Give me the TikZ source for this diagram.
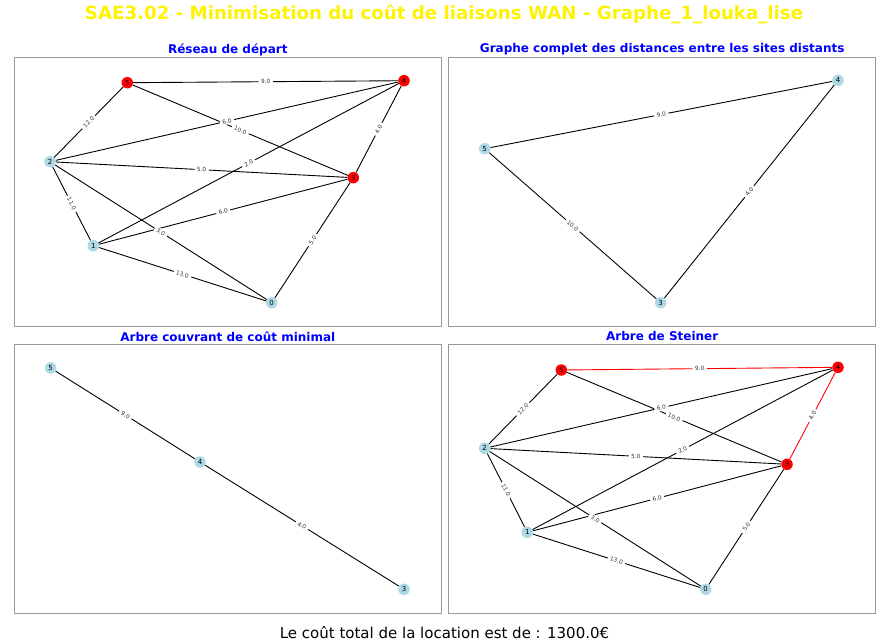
\documentclass[tikz,border=0pt]{standalone}
\usepackage{fontspec}
\setmainfont{DejaVu Sans}
\definecolor{nodeblue}{HTML}{ADD8E6}
\definecolor{framegray}{HTML}{999999}
\tikzset{
  x=1pt, y=-1pt,
  site/.style={circle, fill=nodeblue, minimum size=11.5pt, inner sep=0pt, font=\fontsize{7}{7}\selectfont},
  term/.style={site, fill=red},
  link/.style={draw=black, line width=0.9pt},
  redlink/.style={draw=red, line width=0.9pt},
  elabel/.style={midway, sloped, fill=white, inner xsep=2.5pt, inner ysep=1pt, rounded corners=1.5pt, text=black!80, font=\fontsize{5.8}{5.8}\selectfont},
  panel/.style={draw=framegray, line width=0.8pt},
  ptitle/.style={text=blue, font=\bfseries\fontsize{12}{12}\selectfont},
}
\begin{document}
\begin{tikzpicture}
\useasboundingbox (0,0) rectangle (890,642);
% main title
\node[text=yellow, font=\bfseries\fontsize{18.2}{18.2}\selectfont] (title) at (444,14) {SAE3.02 - Minimisation du coût de liaisons WAN - Graphe\_1\_louka\_lise};
% panels
\draw[panel] (14,57.3) rectangle (441.7,326);
\draw[panel] (448.7,57.3) rectangle (875.7,326);
\draw[panel] (14,344.3) rectangle (441.7,613.3);
\draw[panel] (448.7,344.3) rectangle (875.7,613.3);
\node[ptitle] (tA) at (227.8,49.5) {Réseau de départ};
\node[ptitle] (tB) at (662.2,49.5) {Graphe complet des distances entre les sites distants};
\node[ptitle] (tC) at (227.8,336.5) {Arbre couvrant de coût minimal};
\node[ptitle] (tD) at (662.2,336.5) {Arbre de Steiner};
% footer
\node[font=\fontsize{15}{15}\selectfont] (foot) at (444.5,633) {Le coût total de la location est de : 1300.0€};

% Panel A : réseau de départ
\node[term] (A5) at (127.3,82.7) {5};
\node[term] (A4) at (404,80.7) {4};
\node[site] (A2) at (50,161.7) {2};
\node[term] (A3) at (353.3,177.7) {3};
\node[site] (A1) at (93.3,245.7) {1};
\node[site] (A0) at (271.7,302.7) {0};
\foreach \a/\b in {5/4,5/2,5/3,2/4,2/3,2/1,2/0,1/4,1/3,1/0,3/4,3/0}
  \draw[link] (A\a) -- (A\b);
\foreach \a/\b/\w in {5/4/9.0,5/2/12.0,5/3/10.0,2/4/6.0,2/3/5.0,2/1/11.0,2/0/3.0,1/4/2.0,1/3/6.0,1/0/13.0,3/4/4.0,3/0/5.0}
  \path (A\a) -- (A\b) node[elabel] {\w};

% Panel B : graphe complet
\node[site] (B4) at (838,80.3) {4};
\node[site] (B5) at (484.7,148.7) {5};
\node[site] (B3) at (660.7,302.7) {3};
\foreach \a/\b in {5/4,5/3,3/4}
  \draw[link] (B\a) -- (B\b);
\foreach \a/\b/\w in {5/4/9.0,5/3/10.0,3/4/4.0}
  \path (B\a) -- (B\b) node[elabel] {\w};

% Panel C : arbre couvrant
\node[site] (C5) at (50.7,368) {5};
\node[site] (C4) at (200,462) {4};
\node[site] (C3) at (404,589.3) {3};
\draw[link] (C5) -- (C4);
\draw[link] (C4) -- (C3);
\path (C5) -- (C4) node[elabel] {9.0};
\path (C4) -- (C3) node[elabel] {4.0};

% Panel D : arbre de Steiner
\node[term] (D5) at (561.3,370) {5};
\node[term] (D4) at (838,367.3) {4};
\node[site] (D2) at (484.7,448.3) {2};
\node[term] (D3) at (787,464.3) {3};
\node[site] (D1) at (527.3,532.3) {1};
\node[site] (D0) at (705.7,589.3) {0};
\foreach \a/\b in {5/2,5/3,2/4,2/3,2/1,2/0,1/4,1/3,1/0,3/0}
  \draw[link] (D\a) -- (D\b);
\draw[redlink] (D5) -- (D4);
\draw[redlink] (D3) -- (D4);
\foreach \a/\b/\w in {5/4/9.0,5/2/12.0,5/3/10.0,2/4/6.0,2/3/5.0,2/1/11.0,2/0/3.0,1/4/2.0,1/3/6.0,1/0/13.0,3/4/4.0,3/0/5.0}
  \path (D\a) -- (D\b) node[elabel] {\w};
\end{tikzpicture}
\end{document}
